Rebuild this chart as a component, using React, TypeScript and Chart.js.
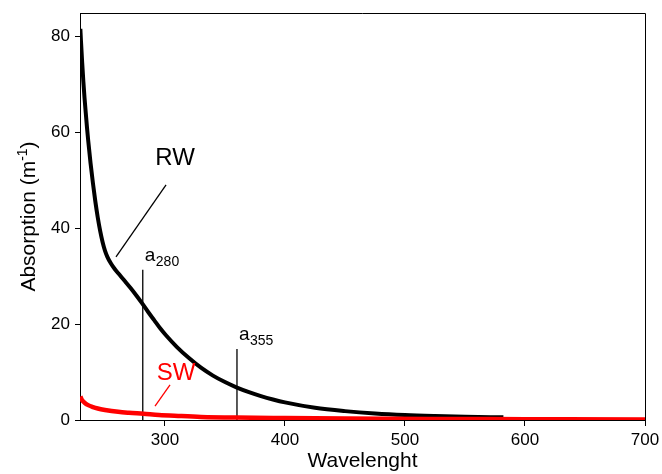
import React, { useEffect, useRef } from 'react';
import { Chart, registerables } from 'chart.js';
Chart.register(...registerables);

// RW (river water) absorption spectrum
const rwWavelength = [229.5, 230, 231, 232, 233, 234, 235, 236, 238, 240, 242, 244, 246, 248, 250, 252, 255, 258, 262, 266, 271, 276, 281, 286, 291, 296, 301, 310, 320, 330, 340, 350, 360, 370, 380, 390, 400, 425, 450, 475, 500, 525, 550, 582];
const rwAbsorption = [81.5, 79, 74.5, 70.5, 67, 64, 61, 58.3, 53.5, 49.3, 45.5, 42.2, 39.4, 37.1, 35.3, 34.0, 32.6, 31.5, 30.3, 29.1, 27.6, 26.0, 24.3, 22.5, 20.8, 19.1, 17.6, 15.2, 12.9, 10.9, 9.25, 7.9, 6.75, 5.8, 4.98, 4.28, 3.68, 2.55, 1.85, 1.35, 1.02, 0.82, 0.68, 0.55];

// SW (sea water) absorption spectrum
const swWavelength = [229.5, 231, 233, 236, 240, 244, 250, 261, 270, 282, 295, 311, 330, 360, 400, 450, 520, 600, 700];
const swAbsorption = [4.9, 4.1, 3.6, 3.1, 2.7, 2.4, 2.1, 1.7, 1.5, 1.3, 1.05, 0.85, 0.65, 0.5, 0.4, 0.3, 0.22, 0.17, 0.12];

const xTicks = [300, 400, 500, 600, 700];
const yTicks = [0, 20, 40, 60, 80];

// a280 / a355 marker lines
const markerWavelengths = [281.5, 360];
const markerTops = [31.3, 14.8];
const markerSubs = ['280', '355'];

// label pointer lines (data coordinates)
const rwPointerX = [300.9, 259.2];
const rwPointerY = [49, 34];
const swPointerX = [304.2, 291.7];
const swPointerY = [7.3, 2.9];

const FONT = '"Liberation Sans", Arial, sans-serif';

function pts(xs: number[], ys: number[]) {
  return xs.map((x, i) => ({ x, y: ys[i] }));
}

const framePlugin = {
  id: 'framePlugin',
  afterDatasetsDraw(chart: any) {
    const { ctx, chartArea, scales } = chart;
    const xs = scales.x;
    const ys = scales.y;
    ctx.save();
    // top and right frame
    ctx.strokeStyle = '#000';
    ctx.lineWidth = 1;
    ctx.beginPath();
    ctx.moveTo(chartArea.left, chartArea.top + 0.5);
    ctx.lineTo(chartArea.right + 0.5, chartArea.top + 0.5);
    ctx.lineTo(chartArea.right + 0.5, chartArea.bottom);
    ctx.stroke();

    // RW / SW labels
    ctx.textAlign = 'center';
    ctx.textBaseline = 'middle';
    ctx.font = `24px ${FONT}`;
    ctx.fillStyle = '#000';
    ctx.fillText('RW', xs.getPixelForValue(308.4), ys.getPixelForValue(54.6));
    ctx.fillStyle = '#ff0000';
    ctx.fillText('SW', xs.getPixelForValue(309.2), ys.getPixelForValue(9.8));

    // a280, a355 labels
    ctx.fillStyle = '#000';
    ctx.textAlign = 'left';
    ctx.textBaseline = 'alphabetic';
    markerWavelengths.forEach((w, i) => {
      const px = xs.getPixelForValue(w) + 2;
      const py = ys.getPixelForValue(markerTops[i]) - 9;
      ctx.font = `19px ${FONT}`;
      ctx.fillText('a', px, py);
      const aw = ctx.measureText('a').width;
      ctx.font = `14px ${FONT}`;
      ctx.fillText(markerSubs[i], px + aw + 0.5, py + 5);
    });

    // x axis title
    ctx.textAlign = 'center';
    ctx.textBaseline = 'middle';
    ctx.font = `21px ${FONT}`;
    ctx.fillText('Wavelenght', (chartArea.left + chartArea.right) / 2, chartArea.bottom + 41);

    // y axis title with superscript
    ctx.translate(chartArea.left - 53, (chartArea.top + chartArea.bottom) / 2);
    ctx.rotate(-Math.PI / 2);
    const mainFont = `21px ${FONT}`;
    const supFont = `14px ${FONT}`;
    ctx.font = mainFont;
    const t1 = 'Absorption (m';
    const w1 = ctx.measureText(t1).width;
    const w3 = ctx.measureText(')').width;
    ctx.font = supFont;
    const t2 = '-1';
    const w2 = ctx.measureText(t2).width;
    const total = w1 + w2 + w3;
    let cx = -total / 2;
    ctx.textAlign = 'left';
    ctx.textBaseline = 'alphabetic';
    ctx.font = mainFont;
    ctx.fillText(t1, cx, 8);
    cx += w1;
    ctx.font = supFont;
    ctx.fillText(t2, cx, 0);
    cx += w2;
    ctx.font = mainFont;
    ctx.fillText(')', cx, 8);
    ctx.restore();
  },
};

export default function App() {
  const ref = useRef<HTMLCanvasElement | null>(null);
  useEffect(() => {
    if (!ref.current) return;
    const markerDatasets = markerWavelengths.map((w, i) => ({
      data: [{ x: w, y: 0 }, { x: w, y: markerTops[i] }],
      borderColor: '#000',
      borderWidth: 1.3,
      pointRadius: 0,
      order: 3,
    }));
    const chart = new Chart(ref.current, {
      type: 'line',
      data: {
        datasets: [
          {
            data: pts(swWavelength, swAbsorption),
            borderColor: '#ff0000',
            borderWidth: 4.5,
            pointRadius: 0,
            cubicInterpolationMode: 'monotone',
            order: 0,
          },
          {
            data: pts(rwWavelength, rwAbsorption),
            borderColor: '#000',
            borderWidth: 4,
            pointRadius: 0,
            cubicInterpolationMode: 'monotone',
            order: 1,
          },
          ...markerDatasets,
          {
            data: pts(rwPointerX, rwPointerY),
            borderColor: '#000',
            borderWidth: 1.3,
            pointRadius: 0,
            order: 3,
          },
          {
            data: pts(swPointerX, swPointerY),
            borderColor: '#ff0000',
            borderWidth: 1.3,
            pointRadius: 0,
            order: 3,
          },
        ] as any,
      },
      options: {
        animation: false,
        responsive: false,
        devicePixelRatio: 1,
        parsing: false as any,
        layout: { padding: { left: 0, top: 13, right: 17, bottom: 0 } },
        plugins: { legend: { display: false }, tooltip: { enabled: false } },
        scales: {
          x: {
            type: 'linear',
            min: 229.2,
            max: 700,
            afterBuildTicks: (s: any) => {
              s.ticks = xTicks.map((v) => ({ value: v }));
            },
            afterFit: (s: any) => {
              s.height = 54;
              s.paddingLeft = 0;
              s.paddingRight = 0;
            },
            grid: { display: true, drawOnChartArea: false, drawTicks: true, tickLength: 6, color: '#000', lineWidth: 1 },
            border: { display: true, color: '#000', width: 1 },
            ticks: { color: '#000', font: { family: FONT, size: 17 }, padding: 4, maxRotation: 0 },
          },
          y: {
            type: 'linear',
            min: 0,
            max: 84.8,
            afterBuildTicks: (s: any) => {
              s.ticks = yTicks.map((v) => ({ value: v }));
            },
            afterFit: (s: any) => {
              s.width = 80;
              s.paddingTop = 0;
              s.paddingBottom = 0;
            },
            grid: { display: true, drawOnChartArea: false, drawTicks: true, tickLength: 5, color: '#000', lineWidth: 1 },
            border: { display: true, color: '#000', width: 1 },
            ticks: { color: '#000', font: { family: FONT, size: 17 }, padding: 5 },
          },
        },
      },
      plugins: [framePlugin],
    } as any);
    return () => chart.destroy();
  }, []);
  return (
    <div style={{ position: 'fixed', left: 0, top: 0, width: 662, height: 474, background: '#fff' }}>
      <canvas ref={ref} width={662} height={474} style={{ display: 'block' }} />
    </div>
  );
}
